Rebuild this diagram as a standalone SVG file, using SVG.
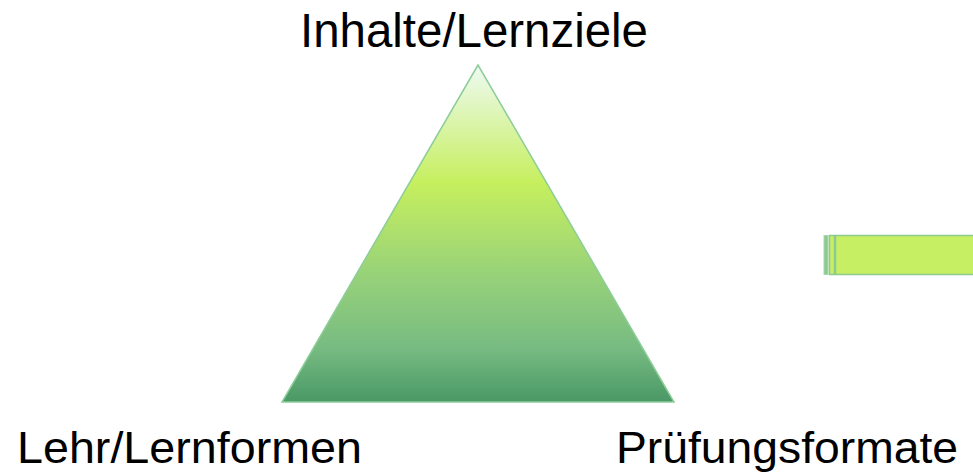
<svg xmlns="http://www.w3.org/2000/svg" width="973" height="475" viewBox="0 0 973 475">
  <style>
    .lbl { font-family: "Liberation Sans", Arial, sans-serif; fill: #000000; }
    .bar { fill: #c6ef63; stroke: #8ec98f; stroke-width: 1.5; }
  </style>
  <defs>
    <linearGradient id="triGrad" x1="0" y1="0" x2="0" y2="1">
      <stop offset="0" stop-color="#eefaf3"/>
      <stop offset="0.35" stop-color="#c6ef5e"/>
      <stop offset="0.62" stop-color="#98d279"/>
      <stop offset="0.84" stop-color="#77bb82"/>
      <stop offset="1" stop-color="#4a9866"/>
    </linearGradient>
  </defs>
  <rect width="973" height="475" fill="#ffffff"/>
  <g id="triangle">
    <polygon points="478,65 282,402 674,402" fill="url(#triGrad)" stroke="#8ccd99" stroke-width="1.5"/>
  </g>
  <g id="arrow">
    <rect x="824" y="235.5" width="4" height="39" fill="#8cc98e" stroke="#a6d9b0" stroke-width="1"/>
    <rect class="bar" x="829.5" y="235.5" width="5" height="39"/>
    <rect class="bar" x="835.5" y="235.5" width="140" height="39"/>
  </g>
  <g id="label-top">
    <text class="lbl" x="300" y="47" font-size="48" textLength="348" lengthAdjust="spacingAndGlyphs">Inhalte/Lernziele</text>
  </g>
  <g id="label-left">
    <text class="lbl" x="17" y="463" font-size="44" textLength="345" lengthAdjust="spacingAndGlyphs">Lehr/Lernformen</text>
  </g>
  <g id="label-right">
    <text class="lbl" x="616" y="463" font-size="44" textLength="342" lengthAdjust="spacingAndGlyphs">Prüfungsformate</text>
  </g>
</svg>
